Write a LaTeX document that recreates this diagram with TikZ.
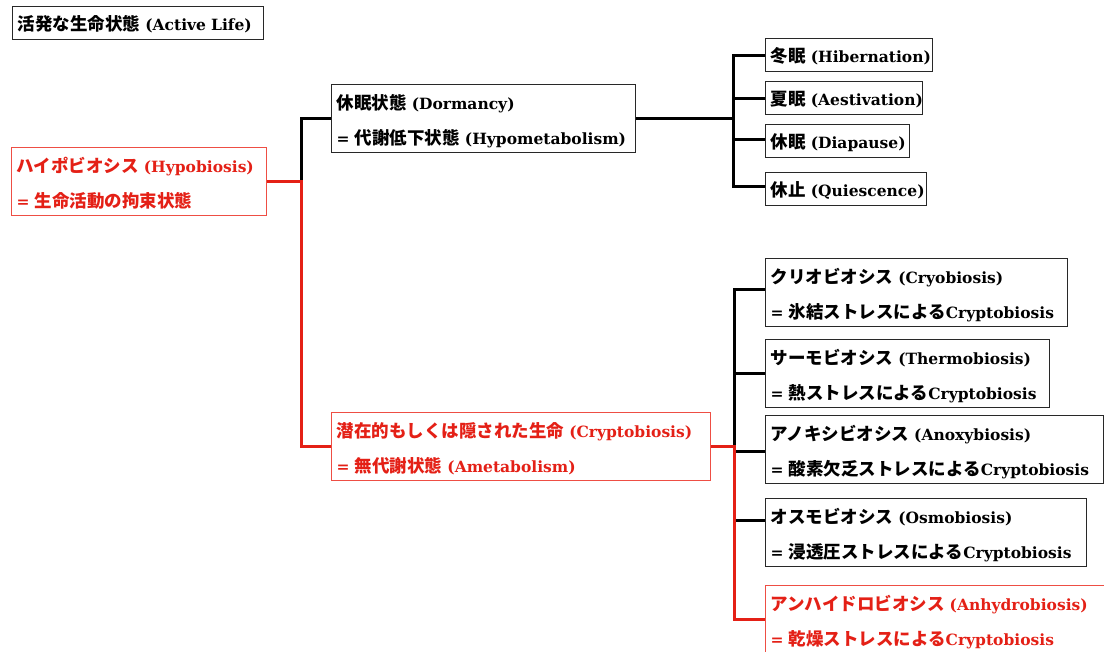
\documentclass[tikz,border=0pt]{standalone}
\usepackage{fontspec}
\setmainfont{DejaVu Serif}
\newfontfamily\jpfont{Noto Sans CJK JP}
\newcommand\J[1]{{\jpfont\fontsize{17.5}{35}\selectfont #1}}
\definecolor{myred}{RGB}{228,32,22}
\definecolor{boxred}{RGB}{238,78,68}
\definecolor{boxgray}{RGB}{40,40,40}
\tikzset{
  bx/.style={draw=boxgray, line width=1.3pt, anchor=north west, inner xsep=5pt, inner ysep=4pt,
    align=left, font=\bfseries\fontsize{15.5}{35}\selectfont, text=black},
  one/.style={text height=20pt, text depth=5pt},
  two/.style={text height=21pt, text depth=39pt},
  rbx/.style={draw=boxred, line width=1.2pt, text=myred},
  tw/.style={text width=#1},
  blk/.style={line width=3pt, black},
  rd/.style={line width=3pt, myred}
}
\begin{document}
\begin{tikzpicture}[x=1pt,y=-1pt]
\useasboundingbox (0,0) rectangle (1104,652);
\clip (0,0) rectangle (1104,652);
\fill[white] (0,0) rectangle (1104,652);

\node[bx,one,tw=241pt] (act) at (12,6) {\mbox{\J{活発な生命状態} (Active Life)}};
\node[bx,two,rbx,tw=245pt] (hypo) at (11,147) {\mbox{\J{ハイポビオシス} (Hypobiosis)}\\\mbox{= \J{生命活動の拘束状態}}};
\node[bx,two,tw=294pt] (dorm) at (331,84) {\mbox{\J{休眠状態} (Dormancy)}\\\mbox{= \J{代謝低下状態} (Hypometabolism)}};
\node[bx,one,tw=157pt] (hib) at (765,38) {\mbox{\J{冬眠} (Hibernation)}};
\node[bx,one,tw=147pt] (aes) at (765,81) {\mbox{\J{夏眠} (Aestivation)}};
\node[bx,one,tw=134pt] (dia) at (765,124) {\mbox{\J{休眠} (Diapause)}};
\node[bx,one,tw=151pt] (qui) at (765,172) {\mbox{\J{休止} (Quiescence)}};
\node[bx,two,rbx,tw=369pt] (crypt) at (331,412) {\mbox{\J{潜在的もしくは隠された生命} (Cryptobiosis)}\\\mbox{= \J{無代謝状態} (Ametabolism)}};
\node[bx,two,tw=292pt] (cryo) at (765,258) {\mbox{\J{クリオビオシス} (Cryobiosis)}\\\mbox{= \J{氷結ストレスによる}Cryptobiosis}};
\node[bx,two,tw=274pt] (therm) at (765,339) {\mbox{\J{サーモビオシス} (Thermobiosis)}\\\mbox{= \J{熱ストレスによる}Cryptobiosis}};
\node[bx,two,tw=328pt] (anox) at (765,415) {\mbox{\J{アノキシビオシス} (Anoxybiosis)}\\\mbox{= \J{酸素欠乏ストレスによる}Cryptobiosis}};
\node[bx,two,tw=311pt] (osmo) at (765,498) {\mbox{\J{オスモビオシス} (Osmobiosis)}\\\mbox{= \J{浸透圧ストレスによる}Cryptobiosis}};
\node[bx,two,rbx,tw=335pt] (anh) at (765,585) {\mbox{\J{アンハイドロビオシス} (Anhydrobiosis)}\\\mbox{= \J{乾燥ストレスによる}Cryptobiosis}};

\coordinate (j1) at (301,0);
\coordinate (j2) at (733,0);
\coordinate (j3) at (734,0);

% left junction
\draw[blk] (j1 |- hypo.east) |- (dorm.west);
\draw[rd] (hypo.east) -| (j1 |- crypt.west) -- (crypt.west);

% upper right
\draw[blk] (dorm.east) -- (j2 |- dorm.east);
\draw[blk] (hib.west) -| ([yshift=3pt]j2 |- qui.west) -- ([yshift=3pt]qui.west);
\draw[blk] (j2 |- aes.west) -- (aes.west);
\draw[blk] ([yshift=2pt]j2 |- dia.west) -- ([yshift=2pt]dia.west);

% lower right
\draw[blk] ([yshift=3pt]cryo.west) -| (j3 |- crypt.east);
\draw[blk] (j3 |- therm.west) -- (therm.west);
\draw[blk] ([yshift=-2pt]j3 |- anox.west) -- ([yshift=-2pt]anox.west);
\draw[blk] ([yshift=12.5pt]j3 |- osmo.west) -- ([yshift=12.5pt]osmo.west);
\draw[rd] (crypt.east) -| (j3 |- anh.west) -- (anh.west);
\end{tikzpicture}
\end{document}
